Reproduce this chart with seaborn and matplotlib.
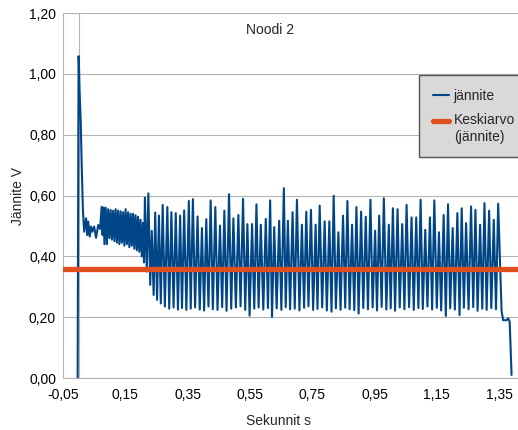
import matplotlib
matplotlib.use("Agg")
import matplotlib.pyplot as plt
from matplotlib.ticker import FuncFormatter
from matplotlib.legend_handler import HandlerLine2D
import pandas as pd
import seaborn as sns

# --- data (Noodi 2) ---
# switch-on spike and the dense ripple before the big oscillation
alku_t = [-0.003, 0.000, 0.001, 0.003, 0.007, 0.010, 0.014, 0.018, 0.024, 0.028,
          0.031, 0.036, 0.040, 0.044, 0.050, 0.056, 0.063, 0.069, 0.074, 0.077,
          0.080, 0.083, 0.087, 0.091, 0.095, 0.099, 0.103, 0.107, 0.111, 0.115,
          0.119, 0.123, 0.127, 0.131, 0.135, 0.139, 0.143, 0.147, 0.151, 0.155,
          0.159, 0.163, 0.167, 0.171, 0.175, 0.179, 0.183, 0.187, 0.191, 0.195,
          0.199, 0.203, 0.207, 0.210]
alku_v = [0.000, 1.058, 1.040, 0.950, 0.840, 0.700, 0.550, 0.481, 0.525, 0.470,
          0.514, 0.465, 0.498, 0.481, 0.498, 0.461, 0.503, 0.490, 0.563, 0.470,
          0.560, 0.440, 0.560, 0.440, 0.555, 0.460, 0.552, 0.455, 0.550, 0.450,
          0.555, 0.445, 0.550, 0.440, 0.548, 0.445, 0.545, 0.435, 0.555, 0.440,
          0.545, 0.430, 0.540, 0.435, 0.540, 0.425, 0.535, 0.420, 0.530, 0.415,
          0.520, 0.400, 0.510, 0.380]

# peaks of the main oscillation
huippu_t = [0.213, 0.224, 0.235, 0.246, 0.258, 0.270, 0.285, 0.298, 0.312, 0.326,
            0.339, 0.354, 0.367, 0.382, 0.396, 0.410, 0.424, 0.439, 0.454, 0.468,
            0.483, 0.497, 0.513, 0.528, 0.542, 0.557, 0.571, 0.585, 0.601, 0.615,
            0.628, 0.644, 0.659, 0.672, 0.687, 0.701, 0.717, 0.731, 0.746, 0.761,
            0.774, 0.790, 0.805, 0.819, 0.834, 0.849, 0.863, 0.878, 0.892, 0.907,
            0.922, 0.937, 0.952, 0.965, 0.980, 0.996, 1.009, 1.024, 1.039, 1.053,
            1.069, 1.084, 1.098, 1.113, 1.128, 1.142, 1.157, 1.172, 1.186, 1.201,
            1.216, 1.230, 1.244, 1.260, 1.274, 1.289, 1.303, 1.318, 1.333, 1.347]
huippu_v = [0.593, 0.607, 0.484, 0.544, 0.534, 0.569, 0.562, 0.545, 0.542, 0.534,
            0.551, 0.582, 0.588, 0.531, 0.493, 0.522, 0.584, 0.562, 0.501, 0.550,
            0.604, 0.525, 0.536, 0.589, 0.506, 0.506, 0.571, 0.504, 0.523, 0.584,
            0.496, 0.517, 0.624, 0.517, 0.545, 0.586, 0.504, 0.547, 0.553, 0.504,
            0.567, 0.515, 0.515, 0.599, 0.479, 0.534, 0.582, 0.504, 0.562, 0.547,
            0.530, 0.586, 0.484, 0.534, 0.591, 0.504, 0.558, 0.555, 0.506, 0.569,
            0.528, 0.528, 0.586, 0.487, 0.528, 0.584, 0.479, 0.536, 0.571, 0.493,
            0.542, 0.558, 0.509, 0.564, 0.553, 0.504, 0.575, 0.550, 0.520, 0.573]

# troughs between the peaks
pohja_t = [0.219, 0.230, 0.241, 0.252, 0.264, 0.277, 0.291, 0.305, 0.319, 0.332,
           0.346, 0.360, 0.374, 0.389, 0.403, 0.417, 0.431, 0.446, 0.461, 0.475,
           0.490, 0.505, 0.520, 0.535, 0.549, 0.564, 0.578, 0.593, 0.608, 0.621,
           0.636, 0.651, 0.665, 0.679, 0.694, 0.709, 0.724, 0.738, 0.753, 0.767,
           0.782, 0.797, 0.812, 0.826, 0.841, 0.856, 0.870, 0.885, 0.899, 0.914,
           0.929, 0.944, 0.958, 0.973, 0.988, 1.002, 1.016, 1.031, 1.046, 1.061,
           1.076, 1.091, 1.105, 1.120, 1.135, 1.150, 1.164, 1.179, 1.193, 1.208,
           1.223, 1.237, 1.252, 1.267, 1.281, 1.296, 1.310, 1.325, 1.340]
pohja_v = [0.350, 0.306, 0.273, 0.257, 0.245, 0.235, 0.228, 0.232, 0.225, 0.230,
           0.224, 0.228, 0.232, 0.225, 0.222, 0.235, 0.226, 0.224, 0.233, 0.221,
           0.228, 0.232, 0.236, 0.224, 0.205, 0.228, 0.232, 0.225, 0.230, 0.201,
           0.229, 0.224, 0.233, 0.226, 0.228, 0.222, 0.231, 0.236, 0.224, 0.227,
           0.232, 0.222, 0.218, 0.229, 0.224, 0.231, 0.226, 0.223, 0.212, 0.230,
           0.226, 0.232, 0.222, 0.234, 0.225, 0.229, 0.221, 0.232, 0.226, 0.233,
           0.224, 0.230, 0.227, 0.235, 0.225, 0.231, 0.222, 0.204, 0.229, 0.225,
           0.207, 0.231, 0.226, 0.233, 0.221, 0.228, 0.224, 0.230, 0.226]

# switch-off tail
loppu_t = [1.358, 1.363, 1.374, 1.379, 1.384, 1.390]
loppu_v = [0.220, 0.190, 0.190, 0.196, 0.185, 0.010]

keskiarvo = 0.36
x_ticks = [-0.05, 0.15, 0.35, 0.55, 0.75, 0.95, 1.15, 1.35]
y_ticks = [0.0, 0.2, 0.4, 0.6, 0.8, 1.0, 1.2]

df = pd.DataFrame({
    "t": alku_t + huippu_t + pohja_t + loppu_t,
    "v": alku_v + huippu_v + pohja_v + loppu_v,
}).sort_values("t")


class FirstLineHandler(HandlerLine2D):
    # put the legend line next to the first row of a two-row label
    def create_artists(self, legend, orig_handle, xdescent, ydescent,
                       width, height, fontsize, trans):
        return super().create_artists(legend, orig_handle, xdescent,
                                      ydescent - 1.2 * fontsize, width, height,
                                      fontsize, trans)


sns.set_theme(style="white")
plt.rcParams["font.family"] = ["Liberation Sans", "DejaVu Sans"]

grey = "#b3b3b3"
fig = plt.figure(figsize=(5.18, 4.30), dpi=100)
ax = fig.add_axes([63 / 518, 1 - 378 / 430, 455 / 518, 365 / 430])

ax.axvline(0, color=grey, lw=0.8, zorder=0.5)
sns.lineplot(data=df, x="t", y="v", ax=ax, color="#004586", lw=1.5,
             estimator=None, sort=False, label="jännite", zorder=2)
mean_line = ax.axhline(keskiarvo, color="#e0501e", lw=3.8,
                       label="Keskiarvo\n(jännite)", zorder=3)

ax.set_xlim(-0.05, 1.4107)
ax.set_ylim(0, 1.2)
ax.set_xticks(x_ticks)
ax.set_yticks(y_ticks)
fmt = FuncFormatter(lambda v, p: f"{v:.2f}".replace(".", ","))
ax.xaxis.set_major_formatter(fmt)
ax.yaxis.set_major_formatter(fmt)
ax.tick_params(axis="both", which="major", labelsize=10, color=grey, length=3,
               width=0.8, labelcolor="black", direction="out")
ax.tick_params(axis="x", pad=4)
ax.tick_params(axis="y", pad=2)
ax.grid(axis="y", color=grey, lw=0.8)
ax.set_axisbelow(True)
for side in ["top", "right"]:
    ax.spines[side].set_visible(False)
for side in ["left", "bottom"]:
    ax.spines[side].set_color(grey)
    ax.spines[side].set_linewidth(0.8)

ax.set_xlabel("Sekunnit s", fontsize=10, va="center")
ax.xaxis.set_label_coords(0.4747, -0.117)
ax.set_ylabel("Jännite V", fontsize=10, va="center")
ax.yaxis.set_label_coords(-0.099, 0.5)

fig.text(270 / 518, 1 - 30 / 430, "Noodi 2", ha="center", va="center", fontsize=10)

handles, labels = ax.get_legend_handles_labels()
leg = ax.legend(handles, labels, loc="upper left",
                bbox_to_anchor=(419 / 518, 1 - 75 / 430),
                bbox_transform=fig.transFigure, frameon=True, fancybox=False,
                facecolor="#d9d9d9", edgecolor="#555555", framealpha=1,
                fontsize=10, handlelength=1.15, handletextpad=0.35,
                borderpad=1.0, labelspacing=0.75, borderaxespad=0,
                handler_map={mean_line: FirstLineHandler()})
leg.get_frame().set_linewidth(1.0)
leg.set_zorder(5)

fig.savefig("out.png", dpi=100)
